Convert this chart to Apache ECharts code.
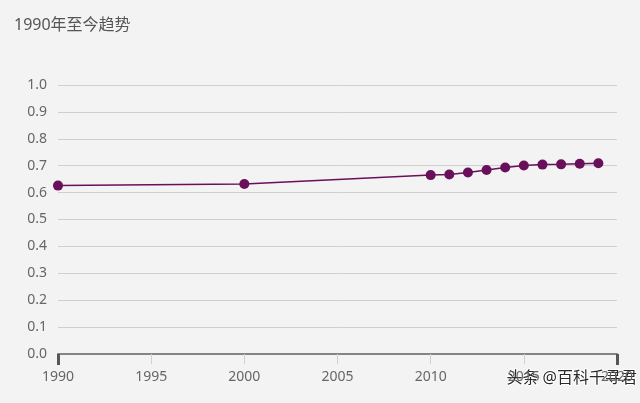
<!DOCTYPE html>
<html><head><meta charset="utf-8">
<script src="https://cdn.jsdelivr.net/npm/echarts@6/dist/echarts.min.js"></script>
<style>html,body{margin:0;padding:0;background:#f3f3f3;}#c{width:640px;height:403px;}</style>
</head><body><div id="c"></div>
<script>
const years = [1990, 2000, 2010, 2011, 2012, 2013, 2014, 2015, 2016, 2017, 2018, 2019];
const values = [0.626, 0.632, 0.665, 0.667, 0.675, 0.684, 0.693, 0.701, 0.704, 0.705, 0.707, 0.709];
const titleText = '1990年至今趋势';
const watermark = '头条 @百科千寻君';

const chart = echarts.init(document.getElementById('c'));
const font = '"Noto Sans", "Noto Sans CJK SC", sans-serif';
chart.setOption({
  backgroundColor: '#f3f3f3',
  animation: false,
  title: { text: titleText, left: 9, top: 12, textStyle: { fontFamily: font, fontSize: 16, fontWeight: 'normal', color: '#555' } },
  grid: { left: 58, right: 23, top: 85, bottom: 49 },
  xAxis: [{
    type: 'value', min: 1990, max: 2020, interval: 5,
    axisLine: { lineStyle: { color: '#838388', width: 2 } },
    axisTick: { length: 10, lineStyle: { color: '#d0d0d0', width: 1 } },
    axisLabel: { margin: 16, color: '#666', fontFamily: font, fontSize: 14, formatter: v => String(v) },
    splitLine: { show: false }
  }, {
    type: 'value', min: 1990, max: 2020, interval: 30, position: 'bottom',
    axisLine: { show: false },
    axisTick: { length: 11, lineStyle: { color: '#55555a', width: 3 } },
    axisLabel: { show: false },
    splitLine: { show: false }
  }],
  yAxis: {
    type: 'value', min: 0, max: 1, interval: 0.1,
    axisLine: { show: false }, axisTick: { show: false },
    axisLabel: { margin: 11, color: '#666', fontFamily: font, fontSize: 14, formatter: v => v.toFixed(1) },
    splitLine: { lineStyle: { color: '#cfcfcf', width: 1 } }
  },
  series: [{
    type: 'line', xAxisIndex: 0,
    data: years.map((y, i) => [y, values[i]]),
    symbol: 'circle', symbolSize: 10,
    itemStyle: { color: '#6a0f5a' },
    lineStyle: { color: '#6a0f5a', width: 1.5 }
  }],
  graphic: [{
    type: 'text', right: 2, top: 369,
    style: { text: watermark, fontFamily: font, fontSize: 16, fill: '#2a2a2a', stroke: '#fff', lineWidth: 2 }
  }]
});
</script></body></html>
